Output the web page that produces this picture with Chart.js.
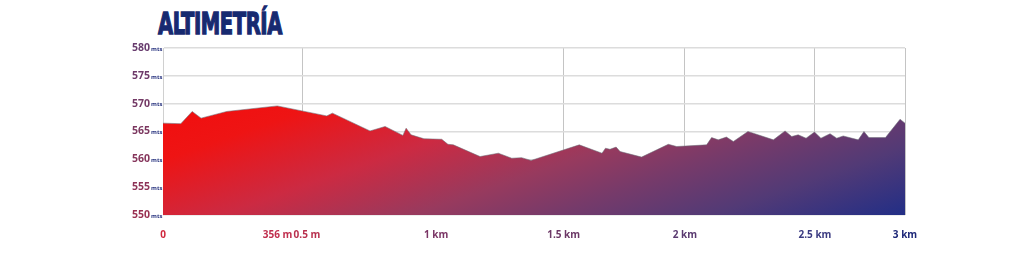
<!DOCTYPE html>
<html>
<head>
<meta charset="utf-8">
<script src="https://cdn.jsdelivr.net/npm/chart.js@4/dist/chart.umd.min.js"></script>
<style>
  html, body { margin: 0; padding: 0; background: #ffffff; }
  #wrap { position: relative; width: 1024px; height: 270px; overflow: hidden; }
  #title {
    position: absolute; left: 158px; top: 8px;
    font-family: "DejaVu Sans Condensed", "DejaVu Sans", sans-serif;
    font-weight: bold; font-size: 31px; line-height: 1;
    color: #172a70; letter-spacing: -0.6px;
    -webkit-text-stroke: 1.3px #172a70;
    transform: scaleX(0.70); transform-origin: 0 0; white-space: nowrap;
  }
  canvas { position: absolute; left: 0; top: 0; }
</style>
</head>
<body>
<div id="wrap">
  <div id="title">ALTIMETRÍA</div>
  <canvas id="c" width="1024" height="270"></canvas>
</div>
<script>
// Distance along the profile (axis units) and elevation (m)
const distance = [0, 0.072, 0.118, 0.154, 0.258, 0.462, 0.662, 0.685, 0.837, 0.898,
  0.970, 0.983, 1.003, 1.055, 1.127, 1.152, 1.174, 1.282, 1.356, 1.410,
  1.450, 1.488, 1.683, 1.775, 1.789, 1.807, 1.832, 1.848, 1.935, 2.043,
  2.077, 2.198, 2.218, 2.245, 2.278, 2.306, 2.365, 2.468, 2.515, 2.542,
  2.568, 2.600, 2.634, 2.660, 2.697, 2.724, 2.750, 2.811, 2.834, 2.854,
  2.921, 2.980, 3.0];
const elevation = [566.5, 566.4, 568.6, 567.4, 568.6, 569.6, 567.8, 568.3, 565.1, 565.9,
  564.3, 565.6, 564.4, 563.7, 563.6, 562.7, 562.6, 560.5, 561.1, 560.2,
  560.3, 559.8, 562.6, 561.1, 562.0, 561.8, 562.2, 561.4, 560.4, 562.7,
  562.3, 562.6, 563.9, 563.5, 564.0, 563.2, 565.0, 563.5, 565.1, 564.1,
  564.4, 563.8, 564.9, 563.8, 564.6, 563.8, 564.2, 563.5, 565.0, 563.9,
  563.9, 567.2, 566.5];

// X-axis ticks (position on axis, label, whether a grid line is drawn, label colour)
const xTickValues = [0, 0.463, 0.566, 0.582, 1.104, 1.62, 2.11, 2.636, 3.0];
const xTickLabels = ['0', '356 m', '', '0.5 m', '1 km', '1.5 km', '2 km', '2.5 km', '3 km'];
const xTickGrid   = [false, false, true, false, false, true, true, true, true];
const xTickColors = ['#d0283e', '#c02f4e', '#b8304e', '#b8304e', '#7a3565', '#6c3866', '#5a3a70', '#3a3a80', '#1e2878'];

// Y-axis ticks
const yTickValues = [550, 555, 560, 565, 570, 575, 580];
const yTickColors = ['#9a3152', '#8e3458', '#86365c', '#7c3860', '#743a66', '#6e3b6a', '#683c6e'];
const yUnit = 'mts';

const data = distance.map((d, i) => ({ x: d, y: elevation[i] }));

function makeGradient(ctx, area) {
  const x0 = area.left, y0 = area.top + 52;
  const g = ctx.createLinearGradient(x0, y0, x0 + 117, y0 + 334);
  g.addColorStop(0.00, '#f20d0d');
  g.addColorStop(0.16, '#ee1414');
  g.addColorStop(0.36, '#cc2a42');
  g.addColorStop(0.54, '#983a5e');
  g.addColorStop(0.67, '#763a6a');
  g.addColorStop(0.82, '#523a76');
  g.addColorStop(1.00, '#222e86');
  return g;
}

const unitPlugin = {
  id: 'unitPlugin',
  afterDraw(chart) {
    const ctx = chart.ctx;
    const y = chart.scales.y;
    ctx.save();
    ctx.font = 'bold 6px "Open Sans", sans-serif';
    ctx.fillStyle = '#2a3580';
    ctx.textAlign = 'left';
    ctx.textBaseline = 'middle';
    yTickValues.forEach(v => {
      ctx.fillText(yUnit, 151, y.getPixelForValue(v) + 1);
    });
    ctx.restore();
  }
};

new Chart(document.getElementById('c'), {
  type: 'line',
  data: {
    datasets: [{
      data: data,
      fill: 'start',
      tension: 0,
      pointRadius: 0,
      borderWidth: 1,
      borderColor: 'rgba(110,110,120,0.55)',
      backgroundColor: (c) => {
        const a = c.chart.chartArea;
        if (!a) return '#c02040';
        return makeGradient(c.chart.ctx, a);
      }
    }]
  },
  options: {
    responsive: false,
    animation: false,
    devicePixelRatio: 1,
    layout: { padding: { left: 0, top: 48, right: 119, bottom: 0 } },
    plugins: { legend: { display: false }, tooltip: { enabled: false } },
    scales: {
      x: {
        type: 'linear', min: 0, max: 3,
        afterFit: (s) => { s.height = 55; },
        afterBuildTicks: (s) => { s.ticks = xTickValues.map(v => ({ value: v })); },
        border: { display: false },
        grid: {
          drawTicks: false,
          color: (c) => (xTickGrid[c.index] ? '#c4c4c4' : 'rgba(0,0,0,0)'),
          lineWidth: 1
        },
        ticks: {
          autoSkip: false, maxRotation: 0, padding: 14,
          font: { family: '"Open Sans", sans-serif', size: 10, weight: 'bold' },
          color: (c) => xTickColors[c.index],
          callback: (v, i) => xTickLabels[i]
        }
      },
      y: {
        min: 550, max: 580,
        afterFit: (s) => { s.width = 163; },
        afterBuildTicks: (s) => { s.ticks = yTickValues.map(v => ({ value: v })); },
        border: { display: true, color: '#d0d0d0', width: 1 },
        grid: { drawTicks: false, color: '#dcdcdc', lineWidth: 1.5 },
        ticks: {
          padding: 13,
          font: { family: '"Open Sans", sans-serif', size: 10.5, weight: 'bold' },
          color: (c) => yTickColors[c.index],
          callback: (v) => String(v)
        }
      }
    }
  },
  plugins: [unitPlugin]
});
</script>
</body>
</html>
